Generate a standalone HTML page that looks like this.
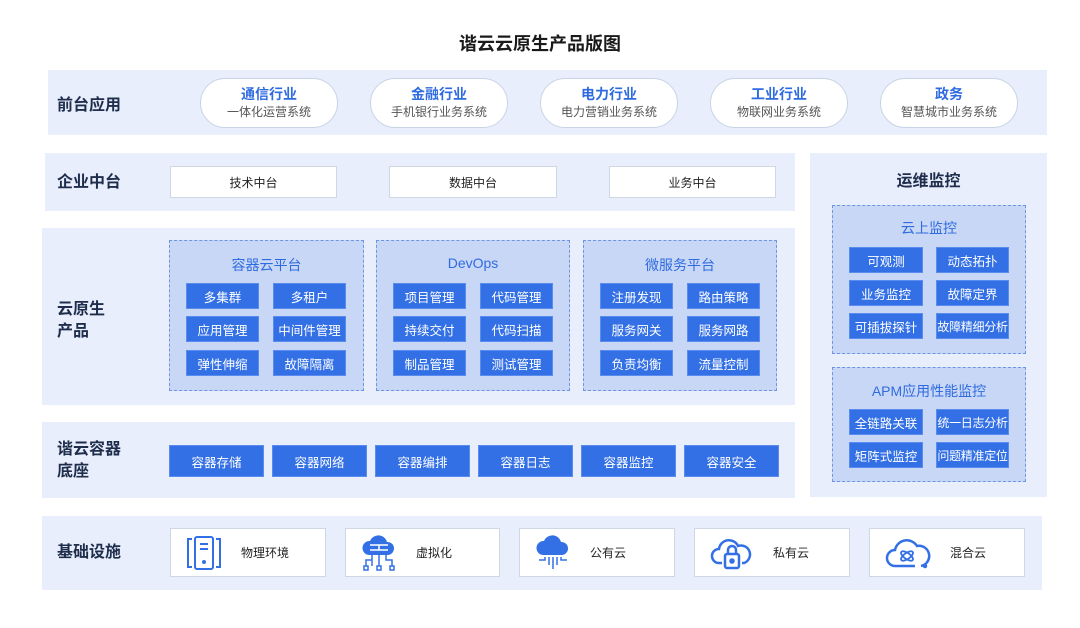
<!DOCTYPE html>
<html><head><meta charset="utf-8"><style>
*{margin:0;padding:0;box-sizing:border-box}
body{width:1080px;height:628px;background:#fff;position:relative;font-family:"Liberation Sans","Noto Sans CJK SC",sans-serif;overflow:hidden}
.a{position:absolute}
.bg{background:#e8eefb}
.lbl{position:absolute;font-size:16px;font-weight:bold;color:#1f2d4d;line-height:22px}
.pill{position:absolute;width:138px;height:50px;border-radius:25px;background:#fff;border:1px solid #c9d3e6;text-align:center}
.pill b{display:block;color:#2f6be0;font-size:14px;margin-top:6px;line-height:18px}
.pill span{display:block;color:#555;font-size:12px;line-height:18px}
.wb{position:absolute;background:#fff;border:1px solid #cfd6e4;font-size:12px;color:#222;display:flex;align-items:center;justify-content:center}
.dash{position:absolute;background:#c8d7f5;border:1.5px dashed #6d95e2}
.dt{position:absolute;left:0;right:0;text-align:center;color:#2f6be0;font-size:14px}
.btn{position:absolute;background:#3370e6;color:#fff;font-size:12.5px;display:flex;align-items:center;justify-content:center;border:1px solid #5a8cf0;white-space:nowrap}
.s{font-size:12px;letter-spacing:-0.3px}
.ic{position:absolute}
</style></head><body>
<div class="a" style="left:0;right:0;top:30px;text-align:center;font-size:18px;font-weight:bold;color:#1a1a1a">谐云云原生产品版图</div>

<div class="a bg" style="left:48px;top:70px;width:999px;height:65px"></div>
<div class="lbl" style="left:57px;top:95px">前台应用</div>
<div class="pill" style="left:200px;top:78px"><b>通信行业</b><span>一体化运营系统</span></div>
<div class="pill" style="left:370px;top:78px"><b>金融行业</b><span>手机银行业务系统</span></div>
<div class="pill" style="left:540px;top:78px"><b>电力行业</b><span>电力营销业务系统</span></div>
<div class="pill" style="left:710px;top:78px"><b>工业行业</b><span>物联网业务系统</span></div>
<div class="pill" style="left:880px;top:78px"><b>政务</b><span>智慧城市业务系统</span></div>

<div class="a bg" style="left:45px;top:153px;width:750px;height:58px"></div>
<div class="lbl" style="left:57px;top:172px">企业中台</div>
<div class="wb" style="left:170px;top:166px;width:167px;height:32px">技术中台</div>
<div class="wb" style="left:389px;top:166px;width:168px;height:32px">数据中台</div>
<div class="wb" style="left:609px;top:166px;width:167px;height:32px">业务中台</div>

<div class="a bg" style="left:810px;top:153px;width:237px;height:344px"></div>
<div class="a" style="left:810px;width:237px;top:167px;text-align:center;font-size:16px;font-weight:bold;color:#1f2d4d">运维监控</div>
<div class="dash" style="left:832px;top:205px;width:194px;height:149px"><div class="dt" style="top:12px">云上监控</div></div>
<div class="btn" style="left:849px;top:247px;width:74px;height:26px">可观测</div>
<div class="btn" style="left:936px;top:247px;width:73px;height:26px">动态拓扑</div>
<div class="btn" style="left:849px;top:280px;width:74px;height:26px">业务监控</div>
<div class="btn" style="left:936px;top:280px;width:73px;height:26px">故障定界</div>
<div class="btn" style="left:849px;top:313px;width:74px;height:26px">可插拔探针</div>
<div class="btn s" style="left:936px;top:313px;width:73px;height:26px">故障精细分析</div>
<div class="dash" style="left:832px;top:367px;width:194px;height:115px"><div class="dt" style="top:13px">APM应用性能监控</div></div>
<div class="btn" style="left:849px;top:409px;width:74px;height:26px">全链路关联</div>
<div class="btn s" style="left:936px;top:409px;width:73px;height:26px">统一日志分析</div>
<div class="btn" style="left:849px;top:442px;width:74px;height:26px">矩阵式监控</div>
<div class="btn s" style="left:936px;top:442px;width:73px;height:26px">问题精准定位</div>

<div class="a bg" style="left:42px;top:228px;width:753px;height:177px"></div>
<div class="lbl" style="left:57px;top:299px">云原生<br>产品</div>
<div class="dash" style="left:169px;top:240px;width:195px;height:151px"><div class="dt" style="top:14px">容器云平台</div></div>
<div class="dash" style="left:376px;top:240px;width:194px;height:151px"><div class="dt" style="top:14px">DevOps</div></div>
<div class="dash" style="left:583px;top:240px;width:194px;height:151px"><div class="dt" style="top:14px">微服务平台</div></div>
<div class="btn" style="left:186px;top:283px;width:73px;height:26px">多集群</div>
<div class="btn" style="left:273px;top:283px;width:73px;height:26px">多租户</div>
<div class="btn" style="left:186px;top:316px;width:73px;height:26px">应用管理</div>
<div class="btn" style="left:273px;top:316px;width:73px;height:26px">中间件管理</div>
<div class="btn" style="left:186px;top:350px;width:73px;height:26px">弹性伸缩</div>
<div class="btn" style="left:273px;top:350px;width:73px;height:26px">故障隔离</div>
<div class="btn" style="left:393px;top:283px;width:73px;height:26px">项目管理</div>
<div class="btn" style="left:480px;top:283px;width:73px;height:26px">代码管理</div>
<div class="btn" style="left:393px;top:316px;width:73px;height:26px">持续交付</div>
<div class="btn" style="left:480px;top:316px;width:73px;height:26px">代码扫描</div>
<div class="btn" style="left:393px;top:350px;width:73px;height:26px">制品管理</div>
<div class="btn" style="left:480px;top:350px;width:73px;height:26px">测试管理</div>
<div class="btn" style="left:600px;top:283px;width:73px;height:26px">注册发现</div>
<div class="btn" style="left:687px;top:283px;width:73px;height:26px">路由策略</div>
<div class="btn" style="left:600px;top:316px;width:73px;height:26px">服务网关</div>
<div class="btn" style="left:687px;top:316px;width:73px;height:26px">服务网路</div>
<div class="btn" style="left:600px;top:350px;width:73px;height:26px">负责均衡</div>
<div class="btn" style="left:687px;top:350px;width:73px;height:26px">流量控制</div>

<div class="a bg" style="left:42px;top:422px;width:753px;height:76px"></div>
<div class="lbl" style="left:57px;top:439px">谐云容器<br>底座</div>
<div class="btn" style="left:169px;top:445px;width:95px;height:32px">容器存储</div>
<div class="btn" style="left:272px;top:445px;width:95px;height:32px">容器网络</div>
<div class="btn" style="left:375px;top:445px;width:95px;height:32px">容器编排</div>
<div class="btn" style="left:478px;top:445px;width:95px;height:32px">容器日志</div>
<div class="btn" style="left:581px;top:445px;width:95px;height:32px">容器监控</div>
<div class="btn" style="left:684px;top:445px;width:95px;height:32px">容器安全</div>

<div class="a bg" style="left:42px;top:516px;width:1000px;height:74px"></div>
<div class="lbl" style="left:57px;top:542px">基础设施</div>
<div class="wb" style="left:170px;top:528px;width:156px;height:49px;justify-content:flex-start;padding-left:70px">物理环境</div>
<div class="wb" style="left:345px;top:528px;width:155px;height:49px;justify-content:flex-start;padding-left:70px">虚拟化</div>
<div class="wb" style="left:519px;top:528px;width:156px;height:49px;justify-content:flex-start;padding-left:70px">公有云</div>
<div class="wb" style="left:694px;top:528px;width:156px;height:49px;justify-content:flex-start;padding-left:78px">私有云</div>
<div class="wb" style="left:869px;top:528px;width:156px;height:49px;justify-content:flex-start;padding-left:80px">混合云</div>

<svg class="ic" style="left:186px;top:535px" width="36" height="36" viewBox="0 0 36 36" fill="none" stroke="#3370e6" stroke-width="2">
<path d="M6 4H2v28h4M30 4h4v28h-4"/><rect x="9" y="2" width="18" height="32" rx="2"/><path d="M14 9h8M14 14h8"/><circle cx="18" cy="27" r="1" fill="#3370e6"/></svg>
<svg class="ic" style="left:361px;top:533px" width="36" height="40" viewBox="0 0 36 40">
<path d="M8 22a7 7 0 0 1 1-14 9 9 0 0 1 17 1 6.5 6.5 0 0 1 1 13z" fill="#3370e6"/>
<path d="M9 12h18M9 17h18M18 12v5" stroke="#fff" stroke-width="1.5"/>
<path d="M18 22v11M11 22v5h-6v6M25 22v5h6v6M11 27v6" stroke="#3370e6" stroke-width="1.5" fill="none"/>
<rect x="3" y="33" width="4" height="4" fill="none" stroke="#3370e6" stroke-width="1.5"/><rect x="16" y="33" width="4" height="4" fill="none" stroke="#3370e6" stroke-width="1.5"/><rect x="29" y="33" width="4" height="4" fill="none" stroke="#3370e6" stroke-width="1.5"/></svg>
<svg class="ic" style="left:535px;top:533px" width="36" height="40" viewBox="0 0 36 40">
<path d="M8 22a7 7 0 0 1 1-14 9 9 0 0 1 17 1 6.5 6.5 0 0 1 1 13z" fill="#3370e6"/>
<path d="M18 24v12M14 24v8M22 24v8M10 24v3H4M26 24v3h6" stroke="#3370e6" stroke-width="1.5" fill="none"/></svg>
<svg class="ic" style="left:710px;top:537px" width="42" height="34" viewBox="0 0 42 34" fill="none" stroke="#3370e6" stroke-width="2.5">
<path d="M12 26H9a7 7 0 0 1 0-14 10 10 0 0 1 19-3 8 8 0 0 1 6 17h-2"/><rect x="15" y="17" width="14" height="14" rx="2"/><path d="M18 17v-4a4 4 0 0 1 8 0v4"/><circle cx="22" cy="24" r="1.5" fill="#3370e6"/></svg>
<svg class="ic" style="left:885px;top:537px" width="46" height="32" viewBox="0 0 46 32" fill="none" stroke="#3370e6" stroke-width="2.5">
<path d="M30 29H10a8 8 0 0 1 0-16 12 12 0 0 1 22-4 9 9 0 0 1 4 20"/><ellipse cx="22" cy="19" rx="7" ry="3" transform="rotate(35 22 19)" stroke-width="1.8"/><ellipse cx="22" cy="19" rx="7" ry="3" transform="rotate(-35 22 19)" stroke-width="1.8"/><circle cx="40" cy="29" r="1" fill="#3370e6"/></svg>
</body></html>
